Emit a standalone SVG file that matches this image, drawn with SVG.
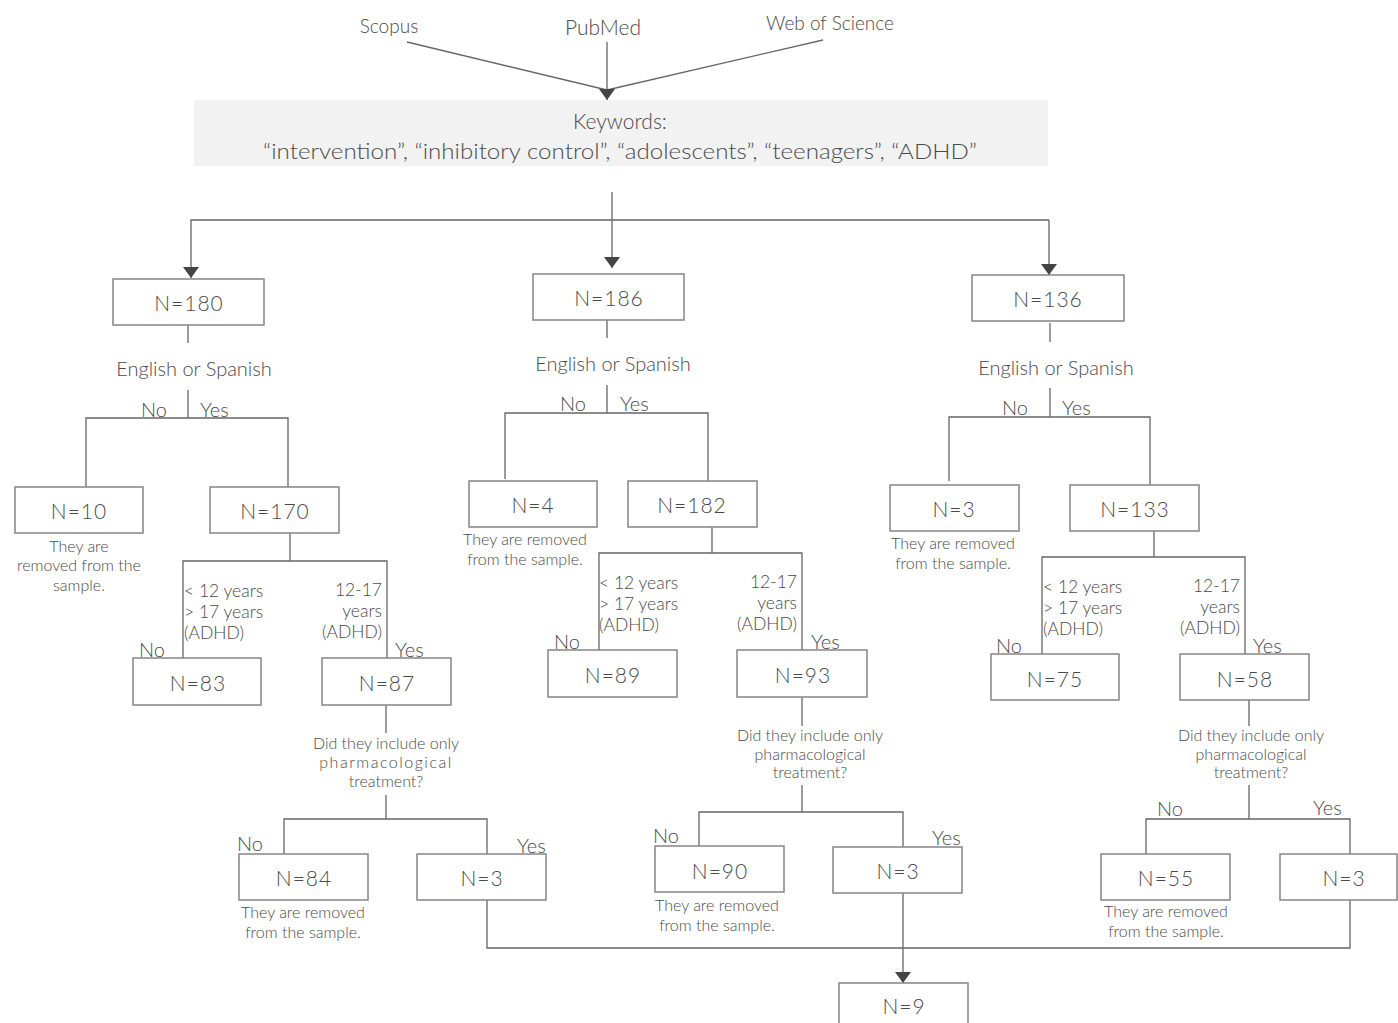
<svg xmlns="http://www.w3.org/2000/svg" width="1398" height="1023" viewBox="0 0 1398 1023">
<defs>
<marker id="ah" markerUnits="userSpaceOnUse" markerWidth="11" markerHeight="16" refX="11" refY="8" orient="auto" viewBox="0 0 11 16">
<path d="M0,0 L11,8 L0,16 Z" fill="#444"/>
</marker>
<style>
.box{fill:#fff;stroke:#858585;stroke-width:1.5}
.ln{stroke:#666;stroke-width:1.3;fill:none}
.ar{stroke:#666;stroke-width:1.3;fill:none;marker-end:url(#ah)}
.t{font-family:Lato,"Liberation Sans",sans-serif;font-weight:300;fill:#4a4a4a;dominant-baseline:central}
.c{text-anchor:middle}
.r{text-anchor:end}
.n{font-size:21px;letter-spacing:1px}
.q{font-size:20px}
.yn{font-size:20px}
.s{font-size:16px}
.a{font-size:17.5px}
</style>
</defs>
<g id="connectors">
<line class="ln" x1="407" y1="42" x2="607" y2="90"/>
<line class="ln" x1="823" y1="40" x2="607" y2="90"/>
<line class="ar" x1="607" y1="42" x2="607" y2="100"/>
<line class="ar" x1="612" y1="192" x2="612" y2="268"/>
<polyline class="ar" points="1049,220 191,220 191,278"/>
<line class="ar" x1="1049" y1="220" x2="1049" y2="275"/>
<!-- left -->
<line class="ln" x1="188" y1="325" x2="188" y2="343"/>
<line class="ln" x1="188" y1="390" x2="188" y2="418"/>
<polyline class="ln" points="86,487 86,418 288,418 288,487"/>
<line class="ln" x1="290" y1="533" x2="290" y2="561"/>
<polyline class="ln" points="183,658 183,561 387,561 387,658"/>
<line class="ln" x1="386" y1="705" x2="386" y2="733"/>
<line class="ln" x1="386" y1="795" x2="386" y2="819"/>
<polyline class="ln" points="284,854 284,819 487,819 487,854"/>
<!-- middle -->
<line class="ln" x1="607" y1="320" x2="607" y2="338"/>
<line class="ln" x1="607" y1="385" x2="607" y2="413"/>
<polyline class="ln" points="505,479 505,413 708,413 708,481"/>
<line class="ln" x1="712" y1="527" x2="712" y2="553"/>
<polyline class="ln" points="599,650 599,553 802,553 802,650"/>
<line class="ln" x1="802" y1="697" x2="802" y2="726"/>
<line class="ln" x1="802" y1="785" x2="802" y2="812"/>
<polyline class="ln" points="699,846 699,812 903,812 903,847"/>
<!-- right -->
<line class="ln" x1="1050" y1="323" x2="1050" y2="342"/>
<line class="ln" x1="1050" y1="388" x2="1050" y2="417"/>
<polyline class="ln" points="949,481 949,417 1150,417 1150,485"/>
<line class="ln" x1="1154" y1="531" x2="1154" y2="557"/>
<polyline class="ln" points="1042,654 1042,557 1245,557 1245,654"/>
<line class="ln" x1="1249" y1="700" x2="1249" y2="726"/>
<line class="ln" x1="1249" y1="785" x2="1249" y2="819"/>
<polyline class="ln" points="1146,854 1146,819 1350,819 1350,854"/>
<!-- merge -->
<polyline class="ln" points="487,900 487,948 1350,948 1350,900"/>
<line class="ar" x1="903" y1="893" x2="903" y2="983"/>
</g>
<g id="sources">
<text class="t c" x="389" y="25" font-size="19">Scopus</text>
<text class="t c" x="603" y="26" font-size="21">PubMed</text>
<text class="t c" x="830" y="22" font-size="19">Web of Science</text>
</g>
<g id="keywords">
<rect x="194" y="100" width="854" height="66" fill="#f2f2f2"/>
<text class="t c" x="620" y="120" font-size="21">Keywords:</text>
<text class="t c" x="620" y="150" font-size="21" textLength="714" lengthAdjust="spacingAndGlyphs">“intervention”, “inhibitory control”, “adolescents”, “teenagers”, “ADHD”</text>
</g>
<g id="n180"><rect class="box" x="113" y="279" width="151" height="46"/><text class="t c n" x="189" y="302">N=180</text></g>
<g id="n186"><rect class="box" x="533" y="274" width="151" height="46"/><text class="t c n" x="609" y="297">N=186</text></g>
<g id="n136"><rect class="box" x="972" y="275" width="152" height="46"/><text class="t c n" x="1048" y="298">N=136</text></g>
<g id="q-lang-left"><text class="t c q" x="194" y="368">English or Spanish</text><text class="t yn" x="141" y="409">No</text><text class="t yn" x="200" y="409">Yes</text></g>
<g id="q-lang-mid"><text class="t c q" x="613" y="363">English or Spanish</text><text class="t yn" x="560" y="403">No</text><text class="t yn" x="620" y="403">Yes</text></g>
<g id="q-lang-right"><text class="t c q" x="1056" y="367">English or Spanish</text><text class="t yn" x="1002" y="407">No</text><text class="t yn" x="1062" y="407">Yes</text></g>
<g id="n10"><rect class="box" x="15" y="487" width="128" height="46"/><text class="t c n" x="79" y="510">N=10</text>
<text class="t c s" x="79" y="545">They are</text><text class="t c s" x="79" y="564">removed from the</text><text class="t c s" x="79" y="584">sample.</text></g>
<g id="n170"><rect class="box" x="210" y="487" width="129" height="46"/><text class="t c n" x="275" y="510">N=170</text></g>
<g id="n4"><rect class="box" x="469" y="481" width="128" height="46"/><text class="t c n" x="533" y="504">N=4</text>
<text class="t c s" x="525" y="538">They are removed</text><text class="t c s" x="525" y="558">from the sample.</text></g>
<g id="n182"><rect class="box" x="628" y="481" width="129" height="46"/><text class="t c n" x="692" y="504">N=182</text></g>
<g id="n3a"><rect class="box" x="890" y="485" width="129" height="46"/><text class="t c n" x="954" y="508">N=3</text>
<text class="t c s" x="953" y="542">They are removed</text><text class="t c s" x="953" y="562">from the sample.</text></g>
<g id="n133"><rect class="box" x="1070" y="485" width="129" height="46"/><text class="t c n" x="1135" y="508">N=133</text></g>
<g id="age-left">
<text class="t a" x="184" y="590">&lt; 12 years</text><text class="t a" x="184" y="611">&gt; 17 years</text><text class="t a" x="184" y="632">(ADHD)</text>
<text class="t a r" x="382" y="589">12-17</text><text class="t a r" x="382" y="610">years</text><text class="t a r" x="382" y="631">(ADHD)</text>
<text class="t yn" x="139" y="649">No</text><text class="t yn" x="395" y="649">Yes</text></g>
<g id="age-mid">
<text class="t a" x="599" y="582">&lt; 12 years</text><text class="t a" x="599" y="603">&gt; 17 years</text><text class="t a" x="599" y="624">(ADHD)</text>
<text class="t a r" x="797" y="581">12-17</text><text class="t a r" x="797" y="602">years</text><text class="t a r" x="797" y="623">(ADHD)</text>
<text class="t yn" x="554" y="641">No</text><text class="t yn" x="811" y="641">Yes</text></g>
<g id="age-right">
<text class="t a" x="1043" y="586">&lt; 12 years</text><text class="t a" x="1043" y="607">&gt; 17 years</text><text class="t a" x="1043" y="628">(ADHD)</text>
<text class="t a r" x="1240" y="585">12-17</text><text class="t a r" x="1240" y="606">years</text><text class="t a r" x="1240" y="627">(ADHD)</text>
<text class="t yn" x="996" y="645">No</text><text class="t yn" x="1253" y="645">Yes</text></g>
<g id="n83"><rect class="box" x="133" y="658" width="128" height="47"/><text class="t c n" x="198" y="682">N=83</text></g>
<g id="n87"><rect class="box" x="322" y="658" width="129" height="47"/><text class="t c n" x="387" y="682">N=87</text></g>
<g id="n89"><rect class="box" x="548" y="650" width="129" height="47"/><text class="t c n" x="613" y="674">N=89</text></g>
<g id="n93"><rect class="box" x="737" y="650" width="130" height="47"/><text class="t c n" x="803" y="674">N=93</text></g>
<g id="n75"><rect class="box" x="991" y="654" width="128" height="46"/><text class="t c n" x="1055" y="678">N=75</text></g>
<g id="n58"><rect class="box" x="1180" y="654" width="129" height="46"/><text class="t c n" x="1245" y="678">N=58</text></g>
<g id="q-ph-left"><text class="t c s" x="386" y="742">Did they include only</text><text class="t c s" x="386" y="761" letter-spacing="1.5">pharmacological</text><text class="t c s" x="386" y="780">treatment?</text>
<text class="t yn" x="237" y="843">No</text><text class="t yn" x="517" y="845">Yes</text></g>
<g id="q-ph-mid"><text class="t c s" x="810" y="734">Did they include only</text><text class="t c s" x="810" y="753">pharmacological</text><text class="t c s" x="810" y="771">treatment?</text>
<text class="t yn" x="653" y="835">No</text><text class="t yn" x="932" y="837">Yes</text></g>
<g id="q-ph-right"><text class="t c s" x="1251" y="734">Did they include only</text><text class="t c s" x="1251" y="753">pharmacological</text><text class="t c s" x="1251" y="771">treatment?</text>
<text class="t yn" x="1157" y="808">No</text><text class="t yn" x="1313" y="807">Yes</text></g>
<g id="n84"><rect class="box" x="239" y="854" width="129" height="46"/><text class="t c n" x="304" y="877">N=84</text>
<text class="t c s" x="303" y="911">They are removed</text><text class="t c s" x="303" y="931">from the sample.</text></g>
<g id="n3b"><rect class="box" x="417" y="854" width="129" height="46"/><text class="t c n" x="482" y="877">N=3</text></g>
<g id="n90"><rect class="box" x="655" y="846" width="129" height="46"/><text class="t c n" x="720" y="870">N=90</text>
<text class="t c s" x="717" y="904">They are removed</text><text class="t c s" x="717" y="924">from the sample.</text></g>
<g id="n3c"><rect class="box" x="833" y="847" width="129" height="46"/><text class="t c n" x="898" y="870">N=3</text></g>
<g id="n55"><rect class="box" x="1101" y="854" width="129" height="46"/><text class="t c n" x="1166" y="877">N=55</text>
<text class="t c s" x="1166" y="910">They are removed</text><text class="t c s" x="1166" y="930">from the sample.</text></g>
<g id="n3d"><rect class="box" x="1280" y="854" width="117" height="46"/><text class="t c n" x="1344" y="877">N=3</text></g>
<g id="n9"><rect class="box" x="839" y="983" width="129" height="46"/><text class="t c n" x="904" y="1005">N=9</text></g>
</svg>
